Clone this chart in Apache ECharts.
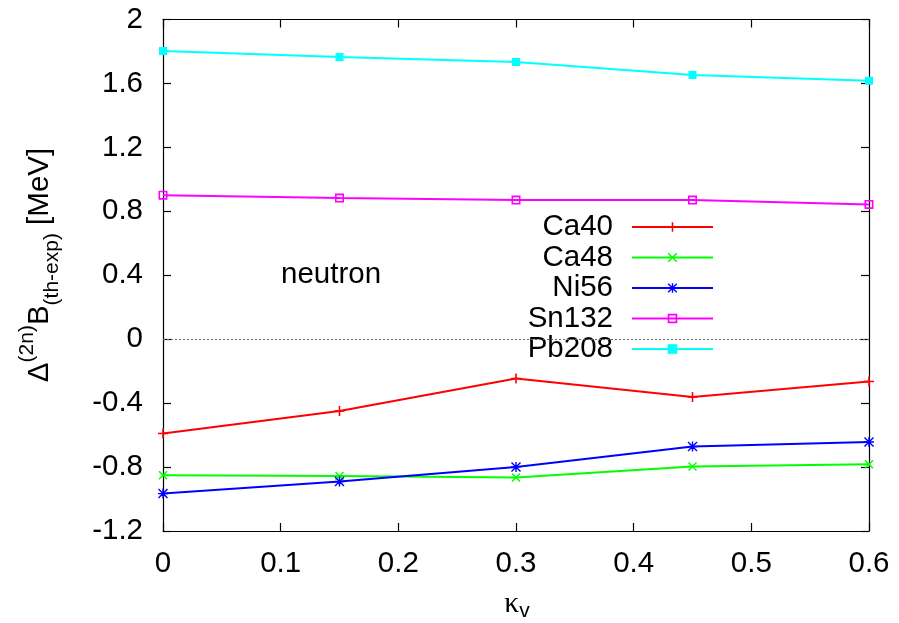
<!DOCTYPE html>
<html>
<head>
<meta charset="utf-8">
<script src="https://cdn.jsdelivr.net/npm/echarts@6/dist/echarts.min.js"></script>
<style>
  html, body { margin: 0; padding: 0; background: #fff; }
  #chart { width: 899px; height: 623px; }
</style>
</head>
<body>
<div id="chart"></div>
<script>
// Coupling strength kappa_v (x values)
const kappa = [0, 0.15, 0.3, 0.45, 0.6];

// Two-neutron separation energy differences, theory minus experiment [MeV]
const ca40  = [-0.59, -0.449, -0.246, -0.361, -0.265];
const ca48  = [-0.851, -0.856, -0.866, -0.797, -0.783];
const ni56  = [-0.966, -0.891, -0.799, -0.672, -0.643];
const sn132 = [0.901, 0.883, 0.870, 0.870, 0.843];
const pb208 = [1.803, 1.765, 1.734, 1.653, 1.617];

const seriesNames = ['Ca40', 'Ca48', 'Ni56', 'Sn132', 'Pb208'];
const seriesValues = [ca40, ca48, ni56, sn132, pb208];

const xTicks = { min: 0, max: 0.6, step: 0.1 };
const yTicks = { min: -1.2, max: 2, step: 0.4 };

// Point marker shapes (gnuplot style)
const PLUS = 'path://M4.2,0H5.8V4.2H10V5.8H5.8V10H4.2V5.8H0V4.2H4.2Z';
const CROSS = 'path://M0,1.1L1.1,0L5,3.9L8.9,0L10,1.1L6.1,5L10,8.9L8.9,10L5,6.1L1.1,10L0,8.9L3.9,5Z';
const STAR = 'path://M4.3,0H5.7V4.3H10V5.7H5.7V10H4.3V5.7H0V4.3H4.3Z M0,1L1,0L5,4L9,0L10,1L6,5L10,9L9,10L5,6L1,10L0,9L4,5Z';
const OPEN_SQ = 'path://M0,0H10V10H0Z M1.8,1.8V8.2H8.2V1.8Z';
const FILL_SQ = 'path://M0,0H10V10H0Z';

const styles = [
  { color: '#ff0000', symbol: PLUS, size: 10 },
  { color: '#00ff00', symbol: CROSS, size: 9 },
  { color: '#0000ff', symbol: STAR, size: 10 },
  { color: '#ff00ff', symbol: OPEN_SQ, size: 9 },
  { color: '#00ffff', symbol: FILL_SQ, size: 8 }
];

const FONT = '"Liberation Sans", Arial, sans-serif';
const FS = 29.5;

function fmt(v) {
  const r = parseFloat(Number(v).toFixed(2));
  return String(r === 0 ? 0 : r);
}

const series = seriesNames.map((name, i) => ({
  name: name,
  type: 'line',
  xAxisIndex: 0,
  yAxisIndex: 0,
  data: kappa.map((k, j) => [k, seriesValues[i][j]]),
  symbol: styles[i].symbol,
  symbolSize: styles[i].size,
  showSymbol: true,
  color: styles[i].color,
  lineStyle: { width: 2, color: styles[i].color },
  itemStyle: { color: styles[i].color },
  emphasis: { disabled: true },
  animation: false,
  z: 3 + i
}));

// Zero reference line
series[0].markLine = {
  silent: true,
  symbol: ['none', 'none'],
  label: { show: false },
  lineStyle: { color: '#666', type: [2, 2], width: 1 },
  data: [{ yAxis: 0 }],
  animation: false
};

// One legend per entry so the line samples stay right-aligned
const legendRowY = [227, 257.5, 288, 318.5, 349];
const legends = seriesNames.map((name, i) => ({
  data: [name],
  orient: 'vertical',
  right: 185,
  top: legendRowY[i] - 15,
  padding: 0,
  align: 'right',
  itemWidth: 81,
  itemHeight: 12,
  selectedMode: false,
  textStyle: {
    fontFamily: FONT,
    fontSize: FS,
    color: '#000',
    lineHeight: 30,
    padding: [0, 14, 0, 0]
  }
}));

const axisLine = { show: true, onZero: false, lineStyle: { color: '#000', width: 1.2 } };
const axisTick = { show: true, inside: true, length: 8, lineStyle: { color: '#000', width: 1.2 } };

const option = {
  backgroundColor: '#fff',
  animation: false,
  grid: { left: 163, right: 30, top: 19.5, bottom: 92, containLabel: false },
  legend: legends,
  xAxis: [
    {
      type: 'value', position: 'bottom',
      min: xTicks.min, max: xTicks.max, interval: xTicks.step,
      axisLine: axisLine, axisTick: axisTick, splitLine: { show: false },
      axisLabel: { margin: 18, color: '#000', fontFamily: FONT, fontSize: FS, formatter: fmt }
    },
    {
      type: 'value', position: 'top',
      min: xTicks.min, max: xTicks.max, interval: xTicks.step,
      axisLine: axisLine, axisTick: axisTick, splitLine: { show: false },
      axisLabel: { show: false }
    }
  ],
  yAxis: [
    {
      type: 'value', position: 'left',
      min: yTicks.min, max: yTicks.max, interval: yTicks.step,
      axisLine: axisLine, axisTick: axisTick, splitLine: { show: false },
      axisLabel: { margin: 20, color: '#000', fontFamily: FONT, fontSize: FS, formatter: fmt }
    },
    {
      type: 'value', position: 'right',
      min: yTicks.min, max: yTicks.max, interval: yTicks.step,
      axisLine: axisLine, axisTick: axisTick, splitLine: { show: false },
      axisLabel: { show: false }
    }
  ],
  series: series,
  graphic: [
    {
      type: 'text',
      left: 281, top: 260,
      style: { text: 'neutron', fontFamily: FONT, fontSize: FS, fill: '#000' }
    },
    {
      type: 'text',
      x: 40, y: 265,
      rotation: Math.PI / 2,
      style: {
        text: '{m|\u0394}{s|(2n)}{m|B}{b|(th-exp)}{m| [MeV]}',
        align: 'center',
        verticalAlign: 'middle',
        rich: {
          m: { fontFamily: FONT, fontSize: FS, fill: '#000', lineHeight: 46, verticalAlign: 'middle' },
          s: { fontFamily: FONT, fontSize: 21, fill: '#000', lineHeight: 22, verticalAlign: 'top' },
          b: { fontFamily: FONT, fontSize: 21, fill: '#000', lineHeight: 22, verticalAlign: 'bottom' }
        }
      }
    },
    {
      type: 'text',
      x: 517, y: 604,
      style: {
        text: '{k|\u03ba}{v|v}',
        align: 'center',
        verticalAlign: 'middle',
        rich: {
          k: { fontFamily: '"Liberation Serif", "DejaVu Serif", serif', fontSize: FS, fill: '#000', lineHeight: 36, verticalAlign: 'middle' },
          v: { fontFamily: FONT, fontSize: 21, fill: '#000', lineHeight: 20, verticalAlign: 'bottom' }
        }
      }
    }
  ]
};

const chart = echarts.init(document.getElementById('chart'), null, { renderer: 'canvas' });
chart.setOption(option);
</script>
</body>
</html>
